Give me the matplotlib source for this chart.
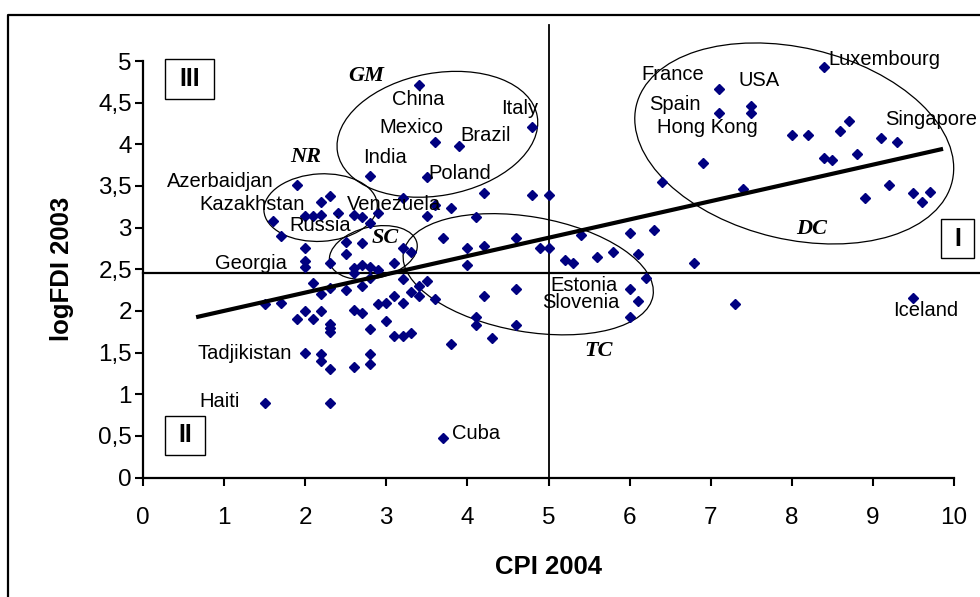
import matplotlib.pyplot as plt
import numpy as np
from matplotlib.patches import Ellipse, Rectangle
from matplotlib.lines import Line2D
from matplotlib.ticker import FixedLocator

plt.rcParams['font.family'] = ['Liberation Sans', 'DejaVu Sans']

# CPI 2004 vs log FDI 2003, one entry per country
cpi = [3.4, 4.8, 3.6, 3.9, 2.8, 3.5,
       1.9, 2.3, 2.2, 2.0, 2.1, 2.2, 2.4, 1.6, 1.7, 2.6, 2.7, 2.9, 2.8,
       3.2, 3.6, 3.5, 3.8, 4.1, 4.2, 4.8, 5.0,
       2.0, 2.5, 2.7, 2.5, 3.2, 3.3, 3.7, 4.6, 4.0, 4.2, 4.9, 5.0, 4.0,
       5.2, 5.3, 5.4, 5.6, 5.8, 6.0, 6.3, 6.1, 6.8, 6.2, 6.4,
       2.0, 2.0, 2.3, 2.6, 2.6, 2.7, 2.8, 2.9, 3.1, 2.8, 3.2, 3.5, 3.4,
       3.3, 3.4, 3.1, 3.6, 2.1, 2.3, 2.5, 2.7, 2.2, 4.2, 4.6,
       6.0, 6.1, 6.0, 7.3, 9.5,
       1.5, 1.7, 2.9, 3.0, 3.2, 2.0, 2.2, 1.9, 2.1, 2.3, 2.3, 2.3,
       2.6, 2.7, 3.0, 2.8, 3.1, 3.2, 3.3, 4.1, 4.1, 4.3, 4.6, 3.8,
       2.0, 2.2, 2.2, 2.3, 2.6, 2.8, 2.8, 1.5, 2.3, 3.7,
       8.4, 7.1, 7.5, 7.5, 7.1, 8.7, 8.6, 8.0, 8.2, 9.1, 9.3,
       6.9, 8.4, 8.5, 8.8, 7.4, 9.2, 8.9, 9.5, 9.7, 9.6]
log_fdi = [4.71, 4.21, 4.03, 3.98, 3.62, 3.61,
           3.51, 3.38, 3.31, 3.14, 3.14, 3.15, 3.18, 3.08, 2.90, 3.15, 3.13, 3.17, 3.06,
           3.36, 3.27, 3.14, 3.23, 3.13, 3.41, 3.39, 3.39,
           2.75, 2.83, 2.81, 2.68, 2.75, 2.71, 2.88, 2.88, 2.76, 2.78, 2.75, 2.75, 2.55,
           2.61, 2.58, 2.91, 2.65, 2.71, 2.93, 2.97, 2.68, 2.58, 2.40, 3.55,
           2.60, 2.53, 2.58, 2.51, 2.45, 2.55, 2.53, 2.49, 2.58, 2.39, 2.38, 2.36, 2.30,
           2.23, 2.18, 2.18, 2.14, 2.33, 2.28, 2.25, 2.30, 2.20, 2.18, 2.26,
           2.26, 2.12, 1.93, 2.08, 2.15,
           2.08, 2.10, 2.08, 2.10, 2.10, 2.00, 2.00, 1.90, 1.90, 1.84, 1.79, 1.75,
           2.01, 1.97, 1.88, 1.78, 1.70, 1.70, 1.73, 1.93, 1.83, 1.68, 1.83, 1.60,
           1.50, 1.48, 1.40, 1.30, 1.33, 1.48, 1.36, 0.90, 0.90, 0.48,
           4.93, 4.66, 4.46, 4.38, 4.38, 4.28, 4.16, 4.11, 4.11, 4.08, 4.03,
           3.78, 3.83, 3.81, 3.88, 3.46, 3.51, 3.36, 3.41, 3.43, 3.31]

# trend line end points
trend_x = [0.68, 9.84]
trend_y = [1.93, 3.94]

# quadrant dividers
cpi_split = 5.0
fdi_split = 2.45

# country names: (name, x, y)
countries = [
    ('China', 3.39, 4.54), ('Mexico', 3.31, 4.20), ('Italy', 4.64, 4.43),
    ('Brazil', 4.23, 4.11), ('India', 2.99, 3.84), ('Poland', 3.91, 3.65),
    ('Azerbaidjan', 0.95, 3.55), ('Kazakhstan', 1.35, 3.28), ('Russia', 2.19, 3.02),
    ('Venezuela', 3.10, 3.28), ('Georgia', 1.33, 2.57), ('Tadjikistan', 1.25, 1.49),
    ('Haiti', 0.95, 0.91), ('Cuba', 4.11, 0.53), ('Estonia', 5.44, 2.31),
    ('Slovenia', 5.40, 2.10), ('France', 6.53, 4.84), ('USA', 7.60, 4.76),
    ('Spain', 6.56, 4.48), ('Hong Kong', 6.96, 4.20), ('Luxembourg', 9.14, 5.02),
    ('Singapore', 9.72, 4.30), ('Iceland', 9.65, 2.00),
]

# country groups: (name, label x, label y, centre x, centre y, width, height, angle)
groups = [
    ('GM', 2.75, 4.82, 3.63, 4.12, 2.50, 1.47, 10),
    ('NR', 2.01, 3.85, 2.19, 3.24, 1.40, 0.81, 3),
    ('SC', 2.99, 2.88, 2.84, 2.70, 1.10, 0.62, 12),
    ('TC', 5.62, 1.52, 4.75, 2.44, 3.12, 1.38, -9.5),
    ('DC', 8.24, 2.98, 8.03, 4.01, 4.00, 2.30, -12.9),
]

# quadrant boxes: (label, x0, y0, x1, y1)
quadrants = [
    ('III', 0.27, 4.54, 0.875, 5.02),
    ('II', 0.27, 0.27, 0.77, 0.74),
    ('I', 9.84, 2.63, 10.25, 3.10),
]

fig = plt.figure(figsize=(9.8, 5.97), dpi=100)
ax = fig.add_axes([143 / 980, 119.5 / 597, 811 / 980, 416.5 / 597])
ax.set_xlim(0, 10)
ax.set_ylim(0, 5)

ax.plot(cpi, log_fdi, linestyle='none', marker='D', ms=5,
        color='#000080', zorder=3)
ax.plot(trend_x, trend_y, color='black', lw=3, zorder=4)

ax.plot([cpi_split, cpi_split], [0, 5.43], color='black', lw=1.3, clip_on=False)
ax.plot([0, 10.35], [fdi_split, fdi_split], color='black', lw=1.6, clip_on=False)

for name, x, y in countries:
    ax.text(x, y, name, fontsize=14.5, ha='center', va='center', zorder=5)

for name, lx, ly, cx, cy, w, h, ang in groups:
    ax.add_patch(Ellipse((cx, cy), w, h, angle=ang, fill=False,
                         edgecolor='black', lw=0.9, clip_on=False))
    ax.text(lx, ly, name, fontsize=16, ha='center', va='center',
            family='Liberation Serif', weight='bold', style='italic')

for name, x0, y0, x1, y1 in quadrants:
    ax.add_patch(Rectangle((x0, y0), x1 - x0, y1 - y0, facecolor='white',
                           edgecolor='black', lw=1.0, clip_on=False, zorder=6))
    ax.text((x0 + x1) / 2, (y0 + y1) / 2, name, fontsize=18, weight='bold',
            ha='center', va='center', zorder=7)

for side in ['top', 'right']:
    ax.spines[side].set_visible(False)
for side in ['left', 'bottom']:
    ax.spines[side].set_linewidth(1.6)

xticks = list(range(0, 11))
yticks = [0, 0.5, 1, 1.5, 2, 2.5, 3, 3.5, 4, 4.5, 5]
ytick_labels = ['0', '0,5', '1', '1,5', '2', '2,5', '3', '3,5', '4', '4,5', '5']
ax.xaxis.set_major_locator(FixedLocator(xticks))
ax.set_xticklabels([str(t) for t in xticks])
ax.yaxis.set_major_locator(FixedLocator(yticks))
ax.set_yticklabels(ytick_labels)
ax.tick_params(axis='both', direction='out', length=6, width=1.5, labelsize=17.5)
ax.tick_params(axis='x', pad=15)
ax.tick_params(axis='y', pad=2)

ax.set_xlabel('CPI 2004', fontsize=18.5, weight='bold')
ax.xaxis.set_label_coords(0.5, -0.185)
ax.set_ylabel('logFDI 2003', fontsize=18.5, weight='bold')
ax.yaxis.set_label_coords(-0.085, 0.5)

# outer frame around the chart
fig.add_artist(Line2D([8 / 980, 8 / 980, 1.0], [0, 1 - 15 / 597, 1 - 15 / 597],
                      transform=fig.transFigure, color='black', lw=1.6))

fig.savefig('out.png', dpi=100)
